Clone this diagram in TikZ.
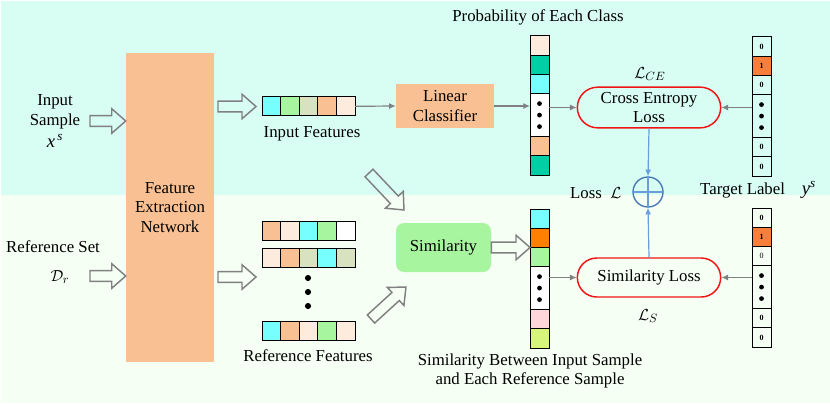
\documentclass[tikz,border=0pt]{standalone}
\usepackage{fontspec}
\setmainfont{Liberation Serif}
\usetikzlibrary{positioning,calc,shapes.misc,arrows.meta}
\definecolor{topbg}{RGB}{216,253,242}
\definecolor{botbg}{RGB}{246,255,244}
\definecolor{peach}{RGB}{249,193,147}
\definecolor{lpeach}{RGB}{253,235,222}
\definecolor{cyanc}{RGB}{119,255,255}
\definecolor{lgreen}{RGB}{168,245,160}
\definecolor{ggreen}{RGB}{216,226,192}
\definecolor{tealc}{RGB}{0,206,164}
\definecolor{orangeA}{RGB}{247,127,59}
\definecolor{orangeB}{RGB}{255,128,0}
\definecolor{pinkc}{RGB}{255,214,218}
\definecolor{ygreen}{RGB}{214,245,122}
\definecolor{lossred}{RGB}{240,20,20}
\definecolor{circblue}{RGB}{70,120,180}
\definecolor{arrblue}{RGB}{105,158,218}
\definecolor{arrgray}{RGB}{128,128,128}
\newcommand\hollowarrow[2]{%
  \path let \p1=(#1), \p2=(#2) in \pgfextra{%
    \pgfmathparse{veclen(\x2-\x1,\y2-\y1)}\xdef\halen{\pgfmathresult}%
    \pgfmathparse{\halen-10.5}\xdef\hahb{\pgfmathresult}%
    \pgfmathparse{atan2(\y2-\y1,\x2-\x1)}\xdef\haang{\pgfmathresult}};
  \draw[hollow, shift={(#1)}, rotate=\haang]
    (0pt,-4.1pt) -- (\hahb pt,-4.1pt) -- (\hahb pt,-9.2pt) -- (\halen pt,0pt)
    -- (\hahb pt,9.2pt) -- (\hahb pt,4.1pt) -- (0pt,4.1pt) -- cycle;
}
\begin{document}
\begin{tikzpicture}[x=0.75pt,y=-0.75pt,
  font=\fontsize{12.6}{14.6}\selectfont,
  hollow/.style={draw=arrgray, line width=1.1pt, line join=miter},
  cellh/.style={rectangle, draw=black, line width=0.75pt, minimum width=13.95pt, minimum height=14.25pt, inner sep=0pt, outer sep=0pt},
  cellv/.style={rectangle, draw=black, line width=0.75pt, minimum width=14.25pt, minimum height=14.4pt, inner sep=0pt, outer sep=0pt, font=\fontsize{6}{7}\selectfont\bfseries},
  dotcell/.style={cellv, minimum height=32.25pt},
  fenbox/.style={rectangle, fill=peach, minimum width=66pt, minimum height=231.75pt, align=center},
  linbox/.style={rectangle, fill=peach, minimum width=73.5pt, minimum height=33pt, align=center},
  simbox/.style={rectangle, rounded corners=6pt, fill=lgreen, minimum width=71.25pt, minimum height=36.75pt},
  lossbox/.style={rounded rectangle, draw=lossred, line width=1.1pt, minimum width=109.5pt, minimum height=30.5pt, align=center, inner sep=1pt},
  garrow/.style={draw=arrgray, line width=0.9pt, -{Latex[length=5pt,width=4.5pt]}},
  barrow/.style={draw=arrblue, line width=0.9pt, -{Latex[length=5pt,width=4.5pt]}},
  dotf/.style={fill=black}
]
\useasboundingbox (0,0) rectangle (830,403);
\fill[white] (0,0) rectangle (830,403);
\fill[topbg] (1,1) rectangle (830,194.5);
\fill[botbg] (1,194.5) rectangle (830,403);

% feature extraction network
\node[fenbox] (fen) at (170,207.5) {Feature\\Extraction\\Network};

% inputs
\node[align=center] (insamp) at (55,121) {Input\\Sample\\[2pt]{\fontsize{14}{16}\selectfont\textit{x}\textsuperscript{\,\textit{s}}}};
\node (refset) at (53,247) {Reference Set};
\node (dr) at (60,277) {$\mathcal{D}_r$};

% input features
\node[cellh,fill=cyanc,anchor=west] (if1) at (262,106.3) {};
\node[cellh,fill=lgreen,right=0pt of if1] (if2) {};
\node[cellh,fill=ggreen,right=0pt of if2] (if3) {};
\node[cellh,fill=peach,right=0pt of if3] (if4) {};
\node[cellh,fill=lpeach,right=0pt of if4] (if5) {};
\node (ifl) at (312,134) {Input Features};

% reference features
\node[cellh,fill=peach,anchor=west] (ra1) at (262,230.5) {};
\node[cellh,fill=lpeach,right=0pt of ra1] (ra2) {};
\node[cellh,fill=cyanc,right=0pt of ra2] (ra3) {};
\node[cellh,fill=lgreen,right=0pt of ra3] (ra4) {};
\node[cellh,fill=white,right=0pt of ra4] (ra5) {};
\node[cellh,fill=lpeach,anchor=west] (rb1) at (262,257.5) {};
\node[cellh,fill=peach,right=0pt of rb1] (rb2) {};
\node[cellh,fill=ggreen,right=0pt of rb2] (rb3) {};
\node[cellh,fill=cyanc,right=0pt of rb3] (rb4) {};
\node[cellh,fill=ggreen,right=0pt of rb4] (rb5) {};
\node[cellh,fill=cyanc,anchor=west] (rc1) at (262,330.5) {};
\node[cellh,fill=peach,right=0pt of rc1] (rc2) {};
\node[cellh,fill=lpeach,right=0pt of rc2] (rc3) {};
\node[cellh,fill=lgreen,right=0pt of rc3] (rc4) {};
\node[cellh,fill=lpeach,right=0pt of rc4] (rc5) {};
\coordinate (rdots) at (308,292);
\fill[dotf] ($(rdots)+(0,-14)$) circle (2.3pt) (rdots) circle (2.3pt) ($(rdots)+(0,14)$) circle (2.3pt);
\node (rfl) at (308,356) {Reference Features};

% linear classifier and similarity
\node[linbox] (lin) at (445,106) {Linear\\Classifier};
\node[simbox] (sim) at (443.5,247.5) {Similarity};

% probability vector
\node (prob) at (538,17) {Probability of Each Class};
\node[cellv,fill=lpeach,anchor=north] (p1) at (539.5,36) {};
\node[cellv,fill=tealc,below=0pt of p1] (p2) {};
\node[cellv,fill=cyanc,below=0pt of p2] (p3) {};
\node[dotcell,fill=white,below=0pt of p3] (p4) {};
\node[cellv,fill=peach,below=0pt of p4] (p5) {};
\node[cellv,fill=tealc,below=0pt of p5] (p6) {};
\fill[dotf] ($(p4.center)+(0,-11.5)$) circle (1.8pt) (p4.center) circle (1.8pt) ($(p4.center)+(0,11.5)$) circle (1.8pt);

% similarity vector
\node[cellv,fill=cyanc,anchor=north] (s1) at (539.5,209) {};
\node[cellv,fill=orangeB,below=0pt of s1] (s2) {};
\node[cellv,fill=lgreen,below=0pt of s2] (s3) {};
\node[dotcell,fill=white,below=0pt of s3] (s4) {};
\node[cellv,fill=pinkc,below=0pt of s4] (s5) {};
\node[cellv,fill=ygreen,below=0pt of s5] (s6) {};
\fill[dotf] ($(s4.center)+(0,-11.5)$) circle (1.8pt) (s4.center) circle (1.8pt) ($(s4.center)+(0,11.5)$) circle (1.8pt);
\node[align=center] (simb) at (530,371) {Similarity Between Input Sample\\and Each Reference Sample};

% target vectors
\node[cellv,anchor=north] (t1) at (761.5,37) {0};
\node[cellv,fill=orangeA,below=0pt of t1] (t2) {1};
\node[cellv,below=0pt of t2] (t3) {0};
\node[dotcell,below=0pt of t3] (t4) {};
\node[cellv,below=0pt of t4] (t5) {0};
\node[cellv,below=0pt of t5] (t6) {0};
\fill[dotf] ($(t4.center)+(0,-11.5)$) circle (1.8pt) (t4.center) circle (1.8pt) ($(t4.center)+(0,11.5)$) circle (1.8pt);
\node (tl) at (758,190) {Target Label\quad{\fontsize{14}{16}\selectfont\textit{y}\textsuperscript{\textit{s}}}};

\node[cellv,anchor=north] (u1) at (761.5,208) {0};
\node[cellv,fill=orangeA,below=0pt of u1] (u2) {1};
\node[cellv,below=0pt of u2,font=\fontsize{6}{7}\selectfont] (u3) {0};
\node[dotcell,below=0pt of u3] (u4) {};
\node[cellv,below=0pt of u4] (u5) {0};
\node[cellv,below=0pt of u5] (u6) {0};
\fill[dotf] ($(u4.center)+(0,-11.5)$) circle (1.8pt) (u4.center) circle (1.8pt) ($(u4.center)+(0,11.5)$) circle (1.8pt);

% losses
\node[lossbox] (ce) at (649,107.5) {Cross Entropy\\Loss};
\node (lce) at (650,74) {$\mathcal{L}_{CE}$};
\node[lossbox, minimum height=29.25pt] (sl) at (649,277.5) {Similarity Loss};
\node (ls) at (648,316) {$\mathcal{L}_{S}$};

% plus
\node[circle, draw=circblue, line width=1pt, minimum size=22.5pt, inner sep=0pt] (plus) at (648,192) {};
\draw[arrblue, line width=1pt] (plus.north) -- (plus.south) (plus.west) -- (plus.east);
\node[anchor=east] (lossl) at (626,193) {Loss\enspace$\mathcal{L}$};

% connectors
\draw[garrow] (if5.east) -- (lin.west);
\draw[garrow] (lin.east) -- (lin.east -| p4.west);
\draw[garrow] (p4.east |- ce.west) -- (ce.west);
\draw[garrow] (t4.west |- ce.east) -- (ce.east);
\draw[garrow] (s4.east |- sl.west) -- (sl.west);
\draw[garrow] (u4.west |- sl.east) -- (sl.east);
\draw[barrow] (ce.south) -- (plus.north);
\draw[barrow] (sl.north) -- (plus.south);

% hollow arrows
\coordinate (h1s) at (90,121);   \coordinate (h1e) at (fen.west |- h1s);
\coordinate (h2s) at (218,106.5); \coordinate (h2e) at (256,106.5);
\coordinate (h3s) at (90,276);   \coordinate (h3e) at (fen.west |- h3s);
\coordinate (h4s) at (218,277);  \coordinate (h4e) at (256,277);
\coordinate (h5s) at (369,173);  \coordinate (h5e) at (404,210);
\coordinate (h6s) at (371,319);  \coordinate (h6e) at (406,287);
\coordinate (h7s) at (sim.east); \coordinate (h7e) at (s3.west |- sim.east);
\hollowarrow{h1s}{h1e}
\hollowarrow{h2s}{h2e}
\hollowarrow{h3s}{h3e}
\hollowarrow{h4s}{h4e}
\hollowarrow{h5s}{h5e}
\hollowarrow{h6s}{h6e}
\hollowarrow{h7s}{h7e}
\end{tikzpicture}
\end{document}
